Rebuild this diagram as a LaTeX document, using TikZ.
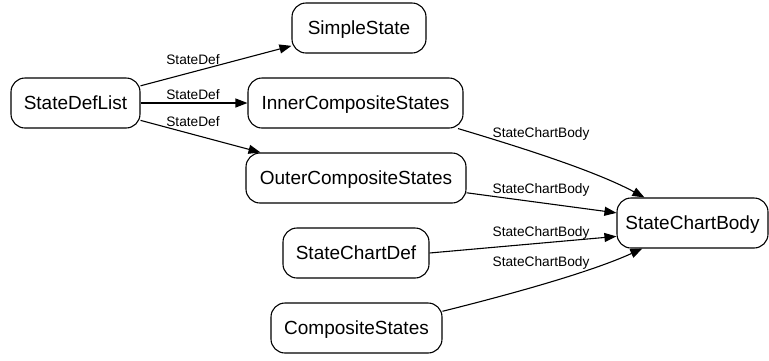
\documentclass[tikz,border=0pt]{standalone}
\usepackage{fontspec}
\setmainfont{Liberation Sans}
\usetikzlibrary{arrows.meta}

\begin{document}
\begin{tikzpicture}[x=1pt, y=-1pt,
  state/.style={draw, line width=1.1pt, rounded corners=14pt, inner sep=0pt,
    minimum height=50pt, font=\fontsize{19}{22}\selectfont,
    text height=13.6pt, text depth=0pt},
  edgelbl/.style={anchor=base, inner sep=0pt, font=\fontsize{13.7}{16}\selectfont},
  flow/.style={line width=1.1pt, -{Triangle[length=12pt, width=9pt]}}]
  \useasboundingbox (0,0) rectangle (769,360);

  % states
  \node[state, minimum width=129pt] (sdl)   at (75.5,103) {StateDefList};
  \node[state, minimum width=134pt] (simple) at (359,28)  {SimpleState};
  \node[state, minimum width=215pt] (inner) at (355.5,103) {InnerCompositeStates};
  \node[state, minimum width=220pt] (outer) at (356,178)  {OuterCompositeStates};
  \node[state, minimum width=146pt] (scd)   at (356,253)  {StateChartDef};
  \node[state, minimum width=171pt] (comp)  at (356.5,328) {CompositeStates};
  \node[state, minimum width=151pt] (body)  at (692.5,223) {StateChartBody};

  % StateDef edges
  \draw[flow] (sdl) -- (simple);
  \draw[flow] (sdl) -- (inner);
  \draw[flow] (sdl) -- (outer);
  \node[edgelbl] (l1) at (193,64)  {StateDef};
  \node[edgelbl] (l2) at (193,99)  {StateDef};
  \node[edgelbl] (l3) at (193,126) {StateDef};

  % StateChartBody edges
  \draw[flow] (inner.-14.5) .. controls +(60,18) and +(-50,-27) .. (body.152.2);
  \draw[flow] (outer) -- (body);
  \draw[flow] (scd.east) -- (body.190.5);
  \draw[flow] (comp.11.2) .. controls +(60,-15) and +(-55,25) .. (body.207.8);
  \node[edgelbl] (l4) at (541,137) {StateChartBody};
  \node[edgelbl] (l5) at (541,193) {StateChartBody};
  \node[edgelbl] (l6) at (541,236) {StateChartBody};
  \node[edgelbl] (l7) at (541,266) {StateChartBody};
\end{tikzpicture}
\end{document}
